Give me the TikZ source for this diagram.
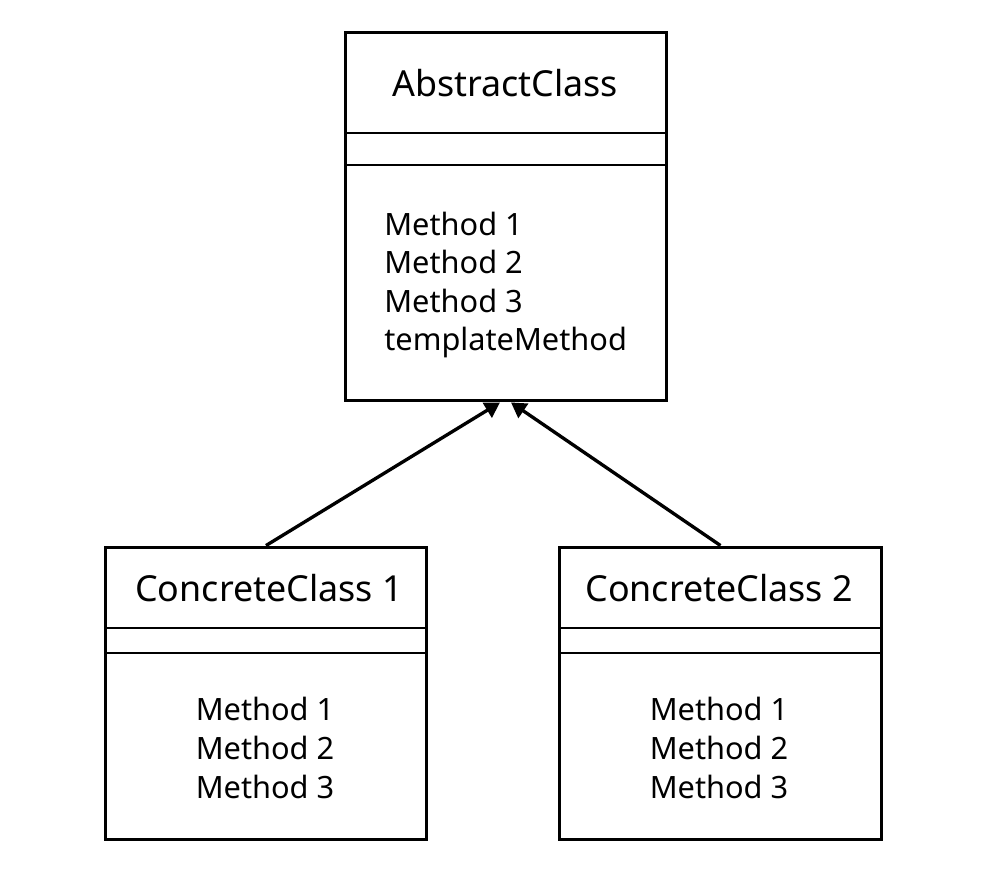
\documentclass[tikz,border=0pt]{standalone}
\usepackage{fontspec}
\setmainfont{Noto Sans}
\usepackage{tikz}
\usetikzlibrary{arrows.meta, positioning}

\begin{document}
\begin{tikzpicture}[x=0.02cm, y=-0.02cm,
        classbox/.style={rectangle, draw, line width=1.7pt, minimum width=6.44cm, inner sep=0pt},
        title/.style={font=\fontsize{20.4}{25}\selectfont, inner sep=0pt},
        methods/.style={font=\fontsize{17.5}{22}\selectfont, align=left, inner sep=0pt},
        divider/.style={line width=1.7pt},
        inherit/.style={line width=1.9pt, -{Triangle[length=0.3cm, width=0.34cm]}}
    ]
    \useasboundingbox (0,0) rectangle (995,889);

    % 类框
    \node[classbox, minimum height=7.38cm] (abs) at (506,216.5) {};
    \node[classbox, minimum height=5.86cm] (cc1) at (266,693.5) {};
    \node[classbox, minimum height=5.86cm] (cc2) at (720.5,693.5) {};

    % 分隔线
    \draw[divider] (345,133) -- (667,133);
    \draw[divider] (345,165) -- (667,165);
    \draw[divider] (105,628) -- (427,628);
    \draw[divider] (105,653) -- (427,653);
    \draw[divider] (559,628) -- (882,628);
    \draw[divider] (559,653) -- (882,653);

    % 文字
    \node[title] (absname) at (505,83) {AbstractClass};
    \node[methods, anchor=west] (absops) at (384,285) {Method 1\\Method 2\\Method 3\\templateMethod};
    \node[title] (cc1name) at (269,588) {ConcreteClass 1};
    \node[methods] (cc1ops) at (265,748) {Method 1\\Method 2\\Method 3};
    \node[title] (cc2name) at (719,588) {ConcreteClass 2};
    \node[methods] (cc2ops) at (719,748) {Method 1\\Method 2\\Method 3};

    % 继承箭头
    \coordinate (tipA) at ([xshift=-0.12cm]abs.south);
    \coordinate (tipB) at ([xshift=0.1cm]abs.south);
    \draw[inherit] (cc1.north) -- (tipA);
    \draw[inherit] (cc2.north) -- (tipB);

\end{tikzpicture}
\end{document}
